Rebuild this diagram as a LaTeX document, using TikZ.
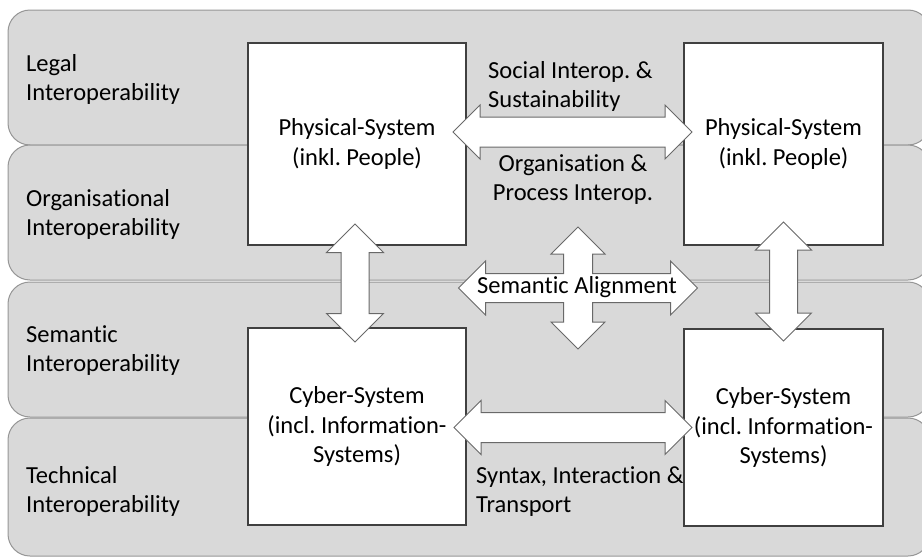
\documentclass[tikz,border=0pt]{standalone}
\usepackage{fontspec}
\setmainfont{Carlito}[Ligatures={NoCommon}]
\frenchspacing
\usetikzlibrary{shapes.arrows}

\definecolor{bandgray}{RGB}{217,217,217}
\definecolor{bandline}{RGB}{150,150,150}
\definecolor{boxline}{RGB}{64,64,64}
\definecolor{arrowline}{RGB}{105,105,105}

\tikzset{
  band/.style={draw=bandline, fill=bandgray, rounded corners=22pt, line width=1pt},
  sysbox/.style={draw=boxline, fill=white, line width=1.2pt, inner sep=0pt, align=center},
  blockarrow/.style={double arrow, draw=arrowline, fill=white, line width=1pt,
    double arrow tip angle=90, inner xsep=0pt},
  lbl/.style={inner sep=0pt, align=left, anchor=west},
}

\begin{document}
\begin{tikzpicture}[x=1pt, y=-1pt, font=\fontsize{24.5pt}{29.5pt}\selectfont]
\useasboundingbox (0,0) rectangle (922,557);
\clip (0,0) rectangle (922,557);

% the four layers
\draw[band] (8,10) rectangle (930,145);
\draw[band] (8,145) rectangle (930,280);
\draw[band] (8,282) rectangle (930,417);
\draw[band] (8,418) rectangle (930,556);

\node[lbl] (legalLbl) at (26,79.5) {Legal\\Interoperability};
\node[lbl] (orgaLbl) at (26,214.5) {Organisational\\Interoperability};
\node[lbl] (semaLbl) at (26,350.5) {Semantic\\Interoperability};
\node[lbl] (techLbl) at (26,491.5) {Technical\\Interoperability};

% systems
\node[sysbox, minimum width=218pt, minimum height=202pt] (physL) at (357,144) {Physical-System\\(inkl. People)};
\node[sysbox, minimum width=199pt, minimum height=202pt] (physR) at (783.5,144) {Physical-System\\(inkl. People)};
\node[sysbox, minimum width=218pt, minimum height=197pt] (cyberL) at (357,426.5) {Cyber-System\\(incl. Information-\\Systems)};
\node[sysbox, minimum width=199pt, minimum height=197pt] (cyberR) at (783.5,427.5) {Cyber-System\\(incl. Information-\\Systems)};

% block arrows
\node[blockarrow, minimum height=239pt, inner ysep=14.5pt, double arrow head extend=12pt] (socArr) at (572.5,132) {};
\node[blockarrow, minimum height=238pt, inner ysep=14.5pt, double arrow head extend=12pt] (synArr) at (573,427.5) {};
\node[blockarrow, rotate=90, minimum height=118pt, inner ysep=13.5pt, double arrow head extend=14.5pt] (leftArr) at (355,283) {};
\node[blockarrow, rotate=90, minimum height=119pt, inner ysep=13.5pt, double arrow head extend=14pt] (rightArr) at (783.5,281.5) {};

% semantic alignment cross
\begin{scope}[shift={(578,288)}]
\draw[draw=arrowline, fill=white, line width=1pt]
  (119.5,0) -- (92.5,27) -- (92.5,14.5) -- (14.5,14.5) -- (14.5,34) -- (27,34)
  -- (0,61) -- (-27,34) -- (-14.5,34) -- (-14.5,14.5) -- (-92.5,14.5) -- (-92.5,27)
  -- (-119.5,0) -- (-92.5,-27) -- (-92.5,-14.5) -- (-14.5,-14.5) -- (-14.5,-34) -- (-27,-34)
  -- (0,-61) -- (27,-34) -- (14.5,-34) -- (14.5,-14.5) -- (92.5,-14.5) -- (92.5,-27) -- cycle;
\node[inner sep=0pt] (semAlign) at (-1,-1) {Semantic Alignment};
\end{scope}

\node[lbl] (socLbl) at (488,86.5) {Social Interop. \&\\Sustainability};
\node[inner sep=0pt, align=center] (orgLbl) at (573,179.5) {Organisation \&\\Process Interop.};
\node[lbl] (synLbl) at (476,491.5) {Syntax, Interaction \&\\Transport};

\end{tikzpicture}
\end{document}
